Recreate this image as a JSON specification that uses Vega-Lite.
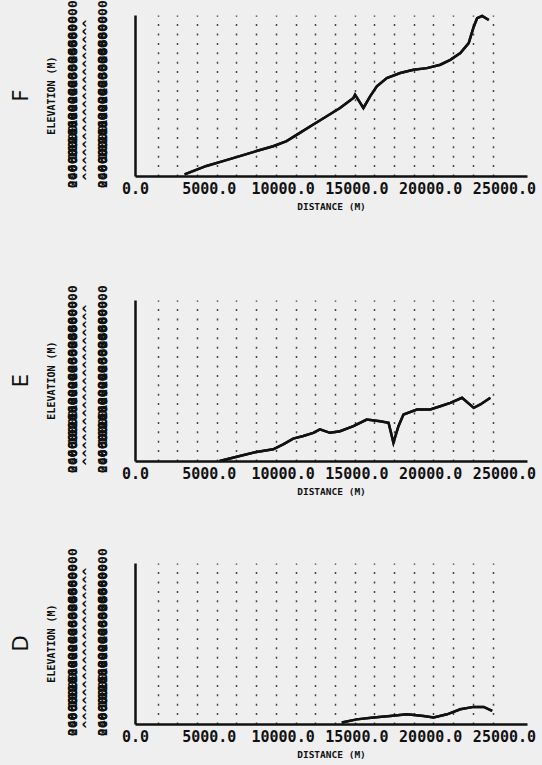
{
  "$schema": "https://vega.github.io/schema/vega-lite/v6.json",
  "autosize": "none",
  "padding": {"left": 135, "top": 15, "right": 15, "bottom": 750},
  "background": "#efefef",
  "config": {"view": {"stroke": null}, "axisY": {"labelOverlap": false}},
  "data": {"values": [
    {"panel":"F","distance":3360,"elevation":40},{"panel":"F","distance":4840,"elevation":250},{"panel":"F","distance":5960,"elevation":370},{"panel":"F","distance":7100,"elevation":495},{"panel":"F","distance":8230,"elevation":620},{"panel":"F","distance":9360,"elevation":740},{"panel":"F","distance":10270,"elevation":865},{"panel":"F","distance":11170,"elevation":1070},{"panel":"F","distance":12080,"elevation":1280},{"panel":"F","distance":12990,"elevation":1485},{"panel":"F","distance":13890,"elevation":1690},{"panel":"F","distance":14800,"elevation":1940},{"panel":"F","distance":14910,"elevation":2020},{"panel":"F","distance":15475,"elevation":1690},{"panel":"F","distance":15930,"elevation":1980},{"panel":"F","distance":16385,"elevation":2230},{"panel":"F","distance":17060,"elevation":2435},{"panel":"F","distance":17970,"elevation":2560},{"panel":"F","distance":18870,"elevation":2640},{"panel":"F","distance":19780,"elevation":2680},{"panel":"F","distance":20685,"elevation":2765},{"panel":"F","distance":21365,"elevation":2885},{"panel":"F","distance":22045,"elevation":3055},{"panel":"F","distance":22610,"elevation":3300},{"panel":"F","distance":22950,"elevation":3710},{"panel":"F","distance":23180,"elevation":3920},{"panel":"F","distance":23520,"elevation":3975},{"panel":"F","distance":23970,"elevation":3875},
    {"panel":"E","distance":5740,"elevation":0},{"panel":"E","distance":7100,"elevation":125},{"panel":"E","distance":8230,"elevation":225},{"panel":"E","distance":9360,"elevation":290},{"panel":"E","distance":10040,"elevation":415},{"panel":"E","distance":10720,"elevation":555},{"panel":"E","distance":11400,"elevation":620},{"panel":"E","distance":12080,"elevation":700},{"panel":"E","distance":12530,"elevation":785},{"panel":"E","distance":13210,"elevation":700},{"panel":"E","distance":13890,"elevation":740},{"panel":"E","distance":14800,"elevation":865},{"panel":"E","distance":15700,"elevation":1030},{"panel":"E","distance":16610,"elevation":990},{"panel":"E","distance":17180,"elevation":950},{"panel":"E","distance":17510,"elevation":455},{"panel":"E","distance":17850,"elevation":865},{"panel":"E","distance":18190,"elevation":1155},{"panel":"E","distance":19100,"elevation":1280},{"panel":"E","distance":20005,"elevation":1280},{"panel":"E","distance":20685,"elevation":1360},{"panel":"E","distance":21365,"elevation":1445},{"panel":"E","distance":22160,"elevation":1570},{"panel":"E","distance":22950,"elevation":1320},{"panel":"E","distance":23400,"elevation":1405},{"panel":"E","distance":24080,"elevation":1570},
    {"panel":"D","distance":14010,"elevation":35},{"panel":"D","distance":15030,"elevation":115},{"panel":"D","distance":16150,"elevation":160},{"panel":"D","distance":17290,"elevation":200},{"panel":"D","distance":18420,"elevation":240},{"panel":"D","distance":19550,"elevation":200},{"panel":"D","distance":20230,"elevation":160},{"panel":"D","distance":21140,"elevation":240},{"panel":"D","distance":22040,"elevation":365},{"panel":"D","distance":22950,"elevation":425},{"panel":"D","distance":23625,"elevation":425},{"panel":"D","distance":24200,"elevation":325}
  ]},
  "spacing": 124,
  "bounds": "flush",
  "vconcat": [
    {
      "title": {"text": "F", "orient": "left", "anchor": "middle", "angle": 270, "fontSize": 21, "font": "DejaVu Sans", "fontWeight": "normal", "color": "#111", "offset": 14},
      "width": 392, "height": 161,
      "transform": [{"filter": "datum.panel === 'F'"}],
      "resolve": {"axis": {"x": "independent"}},
      "encoding": {
        "y": {"field": "elevation", "type": "quantitative", "scale": {"domain": [0, 4000], "nice": false},
          "axis": {"values": [0,200,400,600,800,1000,1200,1400,1600,1800,2000,2200,2400,2600,2800,3000,3200,3400,3600,3800], "format": ".1f", "labelAngle": 270, "labelAlign": "center", "labelBaseline": "bottom", "labelExpr": "[datum.label, '^', datum.label]", "labelLineHeight": 15, "labelFont": "DejaVu Sans Mono", "labelFontWeight": "bold", "labelFontSize": 13, "labelPadding": 56, "labelColor": "#111", "ticks": false, "labelOverlap": false, "labelFlush": false, "labelBound": false, "domainWidth": 2.5, "domainColor": "#111", "grid": false, "title": "ELEVATION (M)", "titleX": -79, "titleY": 80, "titleAngle": 270, "titleBaseline": "bottom", "titleAlign": "center", "titleFont": "DejaVu Sans Mono", "titleFontSize": 10, "titleFontWeight": "bold", "titleColor": "#111"}}
      },
      "layer": [
        {"mark": {"type": "line", "color": "#111", "strokeWidth": 2.5},
         "encoding": {
           "x": {"field": "distance", "type": "quantitative", "scale": {"domain": [0, 26560], "nice": false, "zero": false},
             "axis": {"values": [0,5000,10000,15000,20000,25000], "format": ".1f", "labelFont": "DejaVu Sans Mono", "labelFontWeight": "bold", "labelFontSize": 15, "labelColor": "#111", "labelPadding": 5, "ticks": false, "labelOverlap": false, "labelFlush": false, "labelBound": false, "domainWidth": 2.5, "domainColor": "#111", "grid": false, "title": "DISTANCE (M)", "titleFont": "DejaVu Sans Mono", "titleFontSize": 9.5, "titleFontWeight": "bold", "titlePadding": 5, "titleColor": "#111"}}
         }},
        {"mark": {"type": "line", "color": "#111", "strokeWidth": 2.5},
         "encoding": {
           "x": {"field": "distance", "type": "quantitative", "axis": {"orient": "top", "values": [1530,2865,4200,5535,6870,8205,9540,10875,12210,13545,14880,16215,17550,18885,20220,21555,22890,24225], "labels": false, "ticks": false, "domain": false, "grid": true, "gridDash": [2, 7.4], "gridColor": "#444", "gridWidth": 1.5, "title": null}}
         }}
      ]
    },
    {
      "spacing": 102,
      "bounds": "flush",
      "vconcat": [
        {
          "title": {"text": "E", "orient": "left", "anchor": "middle", "angle": 270, "fontSize": 21, "font": "DejaVu Sans", "fontWeight": "normal", "color": "#111", "offset": 14},
          "width": 392, "height": 161,
          "transform": [{"filter": "datum.panel === 'E'"}],
          "resolve": {"axis": {"x": "independent"}},
          "encoding": {
            "y": {"field": "elevation", "type": "quantitative", "scale": {"domain": [0, 4000], "nice": false},
              "axis": {"values": [0,200,400,600,800,1000,1200,1400,1600,1800,2000,2200,2400,2600,2800,3000,3200,3400,3600,3800], "format": ".1f", "labelAngle": 270, "labelAlign": "center", "labelBaseline": "bottom", "labelExpr": "[datum.label, '^', datum.label]", "labelLineHeight": 15, "labelFont": "DejaVu Sans Mono", "labelFontWeight": "bold", "labelFontSize": 13, "labelPadding": 56, "labelColor": "#111", "ticks": false, "labelOverlap": false, "labelFlush": false, "labelBound": false, "domainWidth": 2.5, "domainColor": "#111", "grid": false, "title": "ELEVATION (M)", "titleX": -79, "titleY": 80, "titleAngle": 270, "titleBaseline": "bottom", "titleAlign": "center", "titleFont": "DejaVu Sans Mono", "titleFontSize": 10, "titleFontWeight": "bold", "titleColor": "#111"}}
          },
          "layer": [
            {"mark": {"type": "line", "color": "#111", "strokeWidth": 2.5},
             "encoding": {
               "x": {"field": "distance", "type": "quantitative", "scale": {"domain": [0, 26560], "nice": false, "zero": false},
                 "axis": {"values": [0,5000,10000,15000,20000,25000], "format": ".1f", "labelFont": "DejaVu Sans Mono", "labelFontWeight": "bold", "labelFontSize": 15, "labelColor": "#111", "labelPadding": 5, "ticks": false, "labelOverlap": false, "labelFlush": false, "labelBound": false, "domainWidth": 2.5, "domainColor": "#111", "grid": false, "title": "DISTANCE (M)", "titleFont": "DejaVu Sans Mono", "titleFontSize": 9.5, "titleFontWeight": "bold", "titlePadding": 5, "titleColor": "#111"}}
             }},
            {"mark": {"type": "line", "color": "#111", "strokeWidth": 2.5},
             "encoding": {
               "x": {"field": "distance", "type": "quantitative", "axis": {"orient": "top", "values": [1530,2865,4200,5535,6870,8205,9540,10875,12210,13545,14880,16215,17550,18885,20220,21555,22890,24225], "labels": false, "ticks": false, "domain": false, "grid": true, "gridDash": [2, 7.4], "gridColor": "#444", "gridWidth": 1.5, "title": null}}
             }}
          ]
        },
        {
          "title": {"text": "D", "orient": "left", "anchor": "middle", "angle": 270, "fontSize": 21, "font": "DejaVu Sans", "fontWeight": "normal", "color": "#111", "offset": 14},
          "width": 392, "height": 161,
          "transform": [{"filter": "datum.panel === 'D'"}],
          "resolve": {"axis": {"x": "independent"}},
          "encoding": {
            "y": {"field": "elevation", "type": "quantitative", "scale": {"domain": [0, 4000], "nice": false},
              "axis": {"values": [0,200,400,600,800,1000,1200,1400,1600,1800,2000,2200,2400,2600,2800,3000,3200,3400,3600,3800], "format": ".1f", "labelAngle": 270, "labelAlign": "center", "labelBaseline": "bottom", "labelExpr": "[datum.label, '^', datum.label]", "labelLineHeight": 15, "labelFont": "DejaVu Sans Mono", "labelFontWeight": "bold", "labelFontSize": 13, "labelPadding": 56, "labelColor": "#111", "ticks": false, "labelOverlap": false, "labelFlush": false, "labelBound": false, "domainWidth": 2.5, "domainColor": "#111", "grid": false, "title": "ELEVATION (M)", "titleX": -79, "titleY": 80, "titleAngle": 270, "titleBaseline": "bottom", "titleAlign": "center", "titleFont": "DejaVu Sans Mono", "titleFontSize": 10, "titleFontWeight": "bold", "titleColor": "#111"}}
          },
          "layer": [
            {"mark": {"type": "line", "color": "#111", "strokeWidth": 2.5},
             "encoding": {
               "x": {"field": "distance", "type": "quantitative", "scale": {"domain": [0, 26560], "nice": false, "zero": false},
                 "axis": {"values": [0,5000,10000,15000,20000,25000], "format": ".1f", "labelFont": "DejaVu Sans Mono", "labelFontWeight": "bold", "labelFontSize": 15, "labelColor": "#111", "labelPadding": 5, "ticks": false, "labelOverlap": false, "labelFlush": false, "labelBound": false, "domainWidth": 2.5, "domainColor": "#111", "grid": false, "title": "DISTANCE (M)", "titleFont": "DejaVu Sans Mono", "titleFontSize": 9.5, "titleFontWeight": "bold", "titlePadding": 5, "titleColor": "#111"}}
             }},
            {"mark": {"type": "line", "color": "#111", "strokeWidth": 2.5},
             "encoding": {
               "x": {"field": "distance", "type": "quantitative", "axis": {"orient": "top", "values": [1530,2865,4200,5535,6870,8205,9540,10875,12210,13545,14880,16215,17550,18885,20220,21555,22890,24225], "labels": false, "ticks": false, "domain": false, "grid": true, "gridDash": [2, 7.4], "gridColor": "#444", "gridWidth": 1.5, "title": null}}
             }}
          ]
        }
      ]
    }
  ]
}
